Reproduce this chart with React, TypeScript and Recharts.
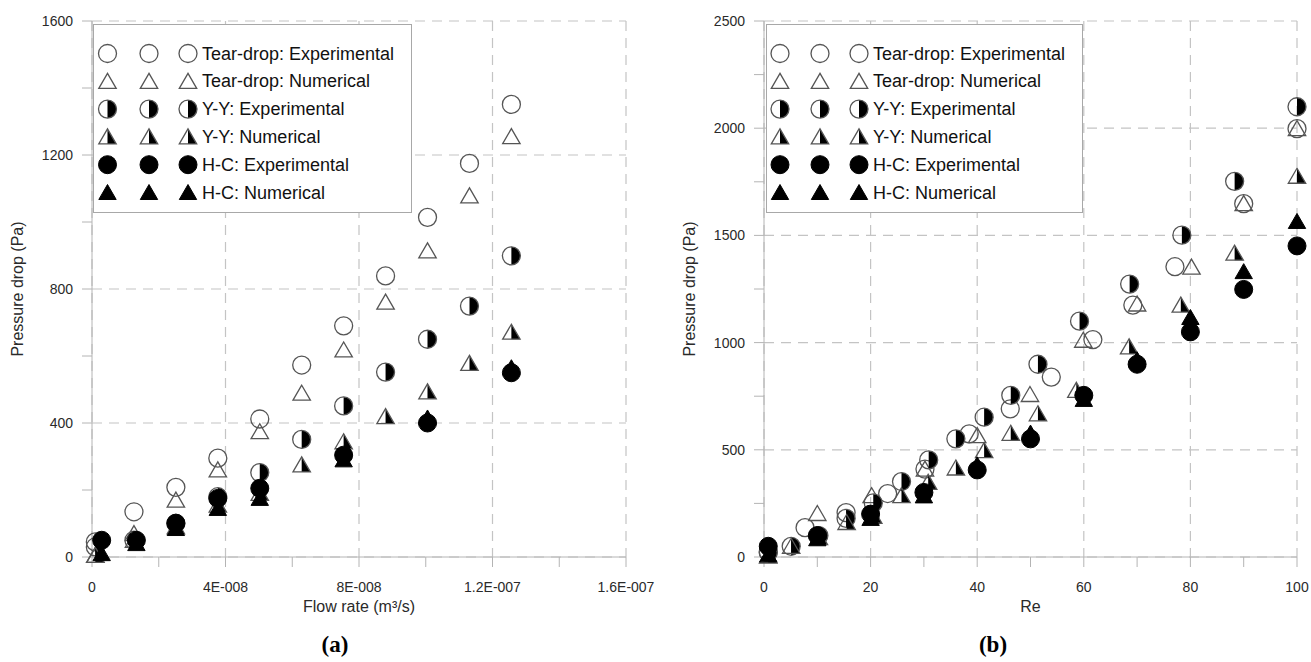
import React from 'react';
import { ScatterChart, Scatter, XAxis, YAxis, CartesianGrid, Label } from 'recharts';

const FONT = "'Liberation Sans', Arial, Helvetica, sans-serif";
const SERIF = "'Liberation Serif', 'Times New Roman', Times, serif";
const STROKE = '#555555';
const AXIS = '#b4b4b4';
const GRID = '#c4c4c4';

// ---------- Panel (a): pressure drop vs flow rate ----------
const flowRate = [1e-9, 1.257e-8, 2.513e-8, 3.77e-8, 5.027e-8, 6.283e-8, 7.54e-8, 8.796e-8, 1.0053e-7, 1.131e-7, 1.2566e-7];
const tearExpA = [45, 135, 208, 295, 412, 573, 690, 839, 1014, 1175, 1351];
const tearNumA = [5, 70, 170, 260, 374, 489, 618, 761, 914, 1078, 1255];
const yyExpA = [30, 50, 100, 180, 252, 351, 451, 552, 650, 749, 899];
const yyNumA = [5, 50, 90, 155, 190, 275, 344, 419, 493, 578, 671];
const flowRateHC = [2.9e-9, 1.33e-8, 2.513e-8, 3.77e-8, 5.027e-8, 7.54e-8, 1.0053e-7, 1.2566e-7];
const hcExpA = [50, 50, 101, 175, 205, 304, 400, 550];
const hcNumA = [10, 40, 85, 145, 175, 290, 415, 565];

const xTicksA = [0, 2e-8, 4e-8, 6e-8, 8e-8, 1e-7, 1.2e-7, 1.4e-7, 1.6e-7];
const xTickLabelsA = ['0', '', '4E-008', '', '8E-008', '', '1.2E-007', '', '1.6E-007'];
const yTicksA = [0, 200, 400, 600, 800, 1000, 1200, 1400, 1600];
const yTickLabelsA = ['0', '', '400', '', '800', '', '1200', '', '1600'];

// ---------- Panel (b): pressure drop vs Re ----------
const reTearExp = [0.8, 7.7, 15.4, 23.2, 30.2, 38.5, 46.2, 53.9, 61.7, 69.2, 77.1, 90, 100];
const tearExpB = [25, 137, 207, 296, 410, 574, 691, 839, 1014, 1175, 1354, 1648, 1998];
const reTearNum = [0.8, 10, 20.2, 30.2, 40, 49.9, 59.9, 70, 80.2, 90, 100];
const tearNumB = [5, 203, 286, 410, 566, 758, 1011, 1180, 1352, 1648, 1998];
const reYYExp = [0.8, 5.1, 10.3, 15.4, 20.5, 25.8, 30.9, 36, 41.3, 46.3, 51.4, 59.2, 68.6, 78.4, 88.3, 100];
const yyExpB = [20, 50, 100, 180, 252, 352, 453, 551, 652, 754, 899, 1100, 1273, 1501, 1752, 2100];
const reYYNum = [0.8, 5.1, 10.3, 15.5, 20.5, 25.8, 30.8, 36, 41.3, 46.3, 51.4, 58.6, 68.5, 78.2, 88.3, 100];
const yyNumB = [5, 50, 90, 161, 190, 286, 348, 415, 496, 577, 668, 777, 980, 1175, 1417, 1776];
const reHC = [0.8, 10, 20, 30, 40, 50, 60, 70, 80, 90, 100];
const hcExpB = [50, 100, 200, 301, 406, 551, 754, 899, 1050, 1248, 1451];
const hcNumB = [10, 85, 180, 285, 430, 578, 735, 920, 1117, 1331, 1565];

const xTicksB = [0, 10, 20, 30, 40, 50, 60, 70, 80, 90, 100];
const xTickLabelsB = ['0', '', '20', '', '40', '', '60', '', '80', '', '100'];
const yTicksB = [0, 250, 500, 750, 1000, 1250, 1500, 1750, 2000, 2250, 2500];
const yTickLabelsB = ['0', '', '500', '', '1000', '', '1500', '', '2000', '', '2500'];

const seriesNames = [
  'Tear-drop: Experimental',
  'Tear-drop: Numerical',
  'Y-Y: Experimental',
  'Y-Y: Numerical',
  'H-C: Experimental',
  'H-C: Numerical',
];

type Kind = 'circle' | 'triangle' | 'halfCircle' | 'halfTriangle' | 'fillCircle' | 'fillTriangle';
const seriesKinds: Kind[] = ['circle', 'triangle', 'halfCircle', 'halfTriangle', 'fillCircle', 'fillTriangle'];

function Marker({ kind, cx, cy }: { kind: Kind; cx: number; cy: number }) {
  if (cx == null || cy == null || isNaN(cx) || isNaN(cy)) return null;
  const r = 9;
  const hw = 8.7;
  const top = cy - 8;
  const bot = cy + 7;
  const tri = `${cx},${top} ${cx - hw},${bot} ${cx + hw},${bot}`;
  switch (kind) {
    case 'circle':
      return <circle cx={cx} cy={cy} r={r} fill="none" stroke={STROKE} strokeWidth={1.3} />;
    case 'triangle':
      return <polygon points={tri} fill="none" stroke={STROKE} strokeWidth={1.3} strokeLinejoin="miter" />;
    case 'halfCircle':
      return (
        <g>
          <path d={`M${cx},${cy - r} A${r},${r} 0 0 1 ${cx},${cy + r} Z`} fill="#000" />
          <circle cx={cx} cy={cy} r={r} fill="none" stroke={STROKE} strokeWidth={1.3} />
        </g>
      );
    case 'halfTriangle':
      return (
        <g>
          <polygon points={`${cx},${top} ${cx + hw},${bot} ${cx},${bot}`} fill="#000" />
          <polygon points={tri} fill="none" stroke={STROKE} strokeWidth={1.3} />
        </g>
      );
    case 'fillCircle':
      return <circle cx={cx} cy={cy} r={r} fill="#000" stroke="#000" strokeWidth={1} />;
    case 'fillTriangle':
      return <polygon points={tri} fill="#000" stroke="#000" strokeWidth={1} />;
  }
  return null;
}

const zip = (xs: number[], ys: number[]) => ys.map((y, i) => ({ x: xs[i], y }));

type PanelProps = {
  left: number;
  width: number;
  margin: { top: number; right: number; bottom: number; left: number };
  xDomain: [number, number];
  xTicks: number[];
  xTickLabels: string[];
  yDomain: [number, number];
  yTicks: number[];
  yTickLabels: string[];
  xTitle: string;
  series: { x: number; y: number }[][];
};

const tickStyle = { fontSize: 14, fill: '#2a2a2a', fontFamily: FONT };
const titleStyle = { fontSize: 16, fill: '#2a2a2a', fontFamily: FONT };

function Panel(p: PanelProps) {
  const majorX = p.xTicks.filter((_, i) => p.xTickLabels[i] !== '');
  const majorY = p.yTicks.filter((_, i) => p.yTickLabels[i] !== '');
  return (
    <div style={{ position: 'absolute', left: p.left, top: 0 }}>
      <ScatterChart width={p.width} height={662} margin={p.margin}>
        <CartesianGrid
          stroke={GRID}
          strokeWidth={1.2}
          strokeDasharray="10 7"
          verticalCoordinatesGenerator={(args: any) =>
            majorX.map((v) =>
              args.xAxis && typeof args.xAxis.scale === 'function'
                ? args.xAxis.scale(v)
                : args.offset.left + ((v - p.xDomain[0]) / (p.xDomain[1] - p.xDomain[0])) * args.offset.width
            )
          }
          horizontalCoordinatesGenerator={(args: any) =>
            majorY.map((v) =>
              args.yAxis && typeof args.yAxis.scale === 'function'
                ? args.yAxis.scale(v)
                : args.offset.top + (1 - (v - p.yDomain[0]) / (p.yDomain[1] - p.yDomain[0])) * args.offset.height
            )
          }
        />
        <XAxis
          type="number"
          dataKey="x"
          domain={p.xDomain}
          ticks={p.xTicks}
          interval={0}
          tickFormatter={(_v: any, i: number) => p.xTickLabels[i] ?? ''}
          height={44}
          tickSize={10}
          tickMargin={15}
          tick={tickStyle}
          stroke={AXIS}
          axisLine={{ stroke: AXIS }}
          tickLine={{ stroke: AXIS }}
        >
          <Label value={p.xTitle} position="bottom" offset={0} style={titleStyle} />
        </XAxis>
        <YAxis
          type="number"
          dataKey="y"
          domain={p.yDomain}
          ticks={p.yTicks}
          interval={0}
          tickFormatter={(_v: any, i: number) => p.yTickLabels[i] ?? ''}
          width={80}
          tickSize={10}
          tickMargin={9}
          tick={tickStyle}
          stroke={AXIS}
          axisLine={{ stroke: AXIS }}
          tickLine={{ stroke: AXIS }}
        >
          <Label
            value="Pressure drop (Pa)"
            angle={-90}
            position="insideLeft"
            offset={5}
            style={{ ...titleStyle, textAnchor: 'middle' }}
          />
        </YAxis>
        {p.series.map((data, si) => (
          <Scatter
            key={si}
            name={seriesNames[si]}
            data={data}
            isAnimationActive={false}
            shape={(sp: any) => <Marker kind={seriesKinds[si]} cx={sp.cx} cy={sp.cy} />}
          />
        ))}
      </ScatterChart>
    </div>
  );
}

function LegendBox({ left, top, width, height, cols, textX }: { left: number; top: number; width: number; height: number; cols: number[]; textX: number }) {
  return (
    <div
      style={{
        position: 'absolute',
        left,
        top,
        width,
        height,
        border: '1px solid #a8a8a8',
        background: '#fff',
        boxSizing: 'border-box',
      }}
    >
      <svg width={width - 2} height={height - 2} style={{ display: 'block' }}>
        {seriesNames.map((name, i) => {
          const cy = 28.5 + i * 27.8;
          return (
            <g key={name}>
              {cols.map((cx, j) => (
                <Marker key={j} kind={seriesKinds[i]} cx={cx} cy={cy} />
              ))}
              <text x={textX} y={cy} dominantBaseline="central" fontSize={18} fill="#111" fontFamily={FONT}>
                {name}
              </text>
            </g>
          );
        })}
      </svg>
    </div>
  );
}

export default function App() {
  const seriesA = [
    zip(flowRate, tearExpA),
    zip(flowRate, tearNumA),
    zip(flowRate, yyExpA),
    zip(flowRate, yyNumA),
    zip(flowRateHC, hcExpA),
    zip(flowRateHC, hcNumA),
  ];
  const seriesB = [
    zip(reTearExp, tearExpB),
    zip(reTearNum, tearNumB),
    zip(reYYExp, yyExpB),
    zip(reYYNum, yyNumB),
    zip(reHC, hcExpB),
    zip(reHC, hcNumB),
  ];
  return (
    <div style={{ position: 'absolute', left: 0, top: 0, width: 1311, height: 662, background: '#fff', overflow: 'hidden' }}>
      <Panel
        left={0}
        width={660}
        margin={{ top: 21, right: 34, bottom: 61, left: 12 }}
        xDomain={[0, 1.6e-7]}
        xTicks={xTicksA}
        xTickLabels={xTickLabelsA}
        yDomain={[0, 1600]}
        yTicks={yTicksA}
        yTickLabels={yTickLabelsA}
        xTitle="Flow rate (m³/s)"
        series={seriesA}
      />
      <Panel
        left={652}
        width={659}
        margin={{ top: 21, right: 14, bottom: 61, left: 32 }}
        xDomain={[0, 100]}
        xTicks={xTicksB}
        xTickLabels={xTickLabelsB}
        yDomain={[0, 2500]}
        yTicks={yTicksB}
        yTickLabels={yTickLabelsB}
        xTitle="Re"
        series={seriesB}
      />
      <LegendBox left={93} top={24} width={319} height={189} cols={[13.5, 55, 94]} textX={108} />
      <LegendBox left={766} top={24} width={317} height={189} cols={[13, 53, 92]} textX={106} />
      <div style={{ position: 'absolute', left: 285, top: 630, width: 100, textAlign: 'center', fontFamily: SERIF, fontWeight: 'bold', fontSize: 23, lineHeight: '30px', color: '#000' }}>
        (a)
      </div>
      <div style={{ position: 'absolute', left: 943, top: 630, width: 100, textAlign: 'center', fontFamily: SERIF, fontWeight: 'bold', fontSize: 23, lineHeight: '30px', color: '#000' }}>
        (b)
      </div>
    </div>
  );
}
